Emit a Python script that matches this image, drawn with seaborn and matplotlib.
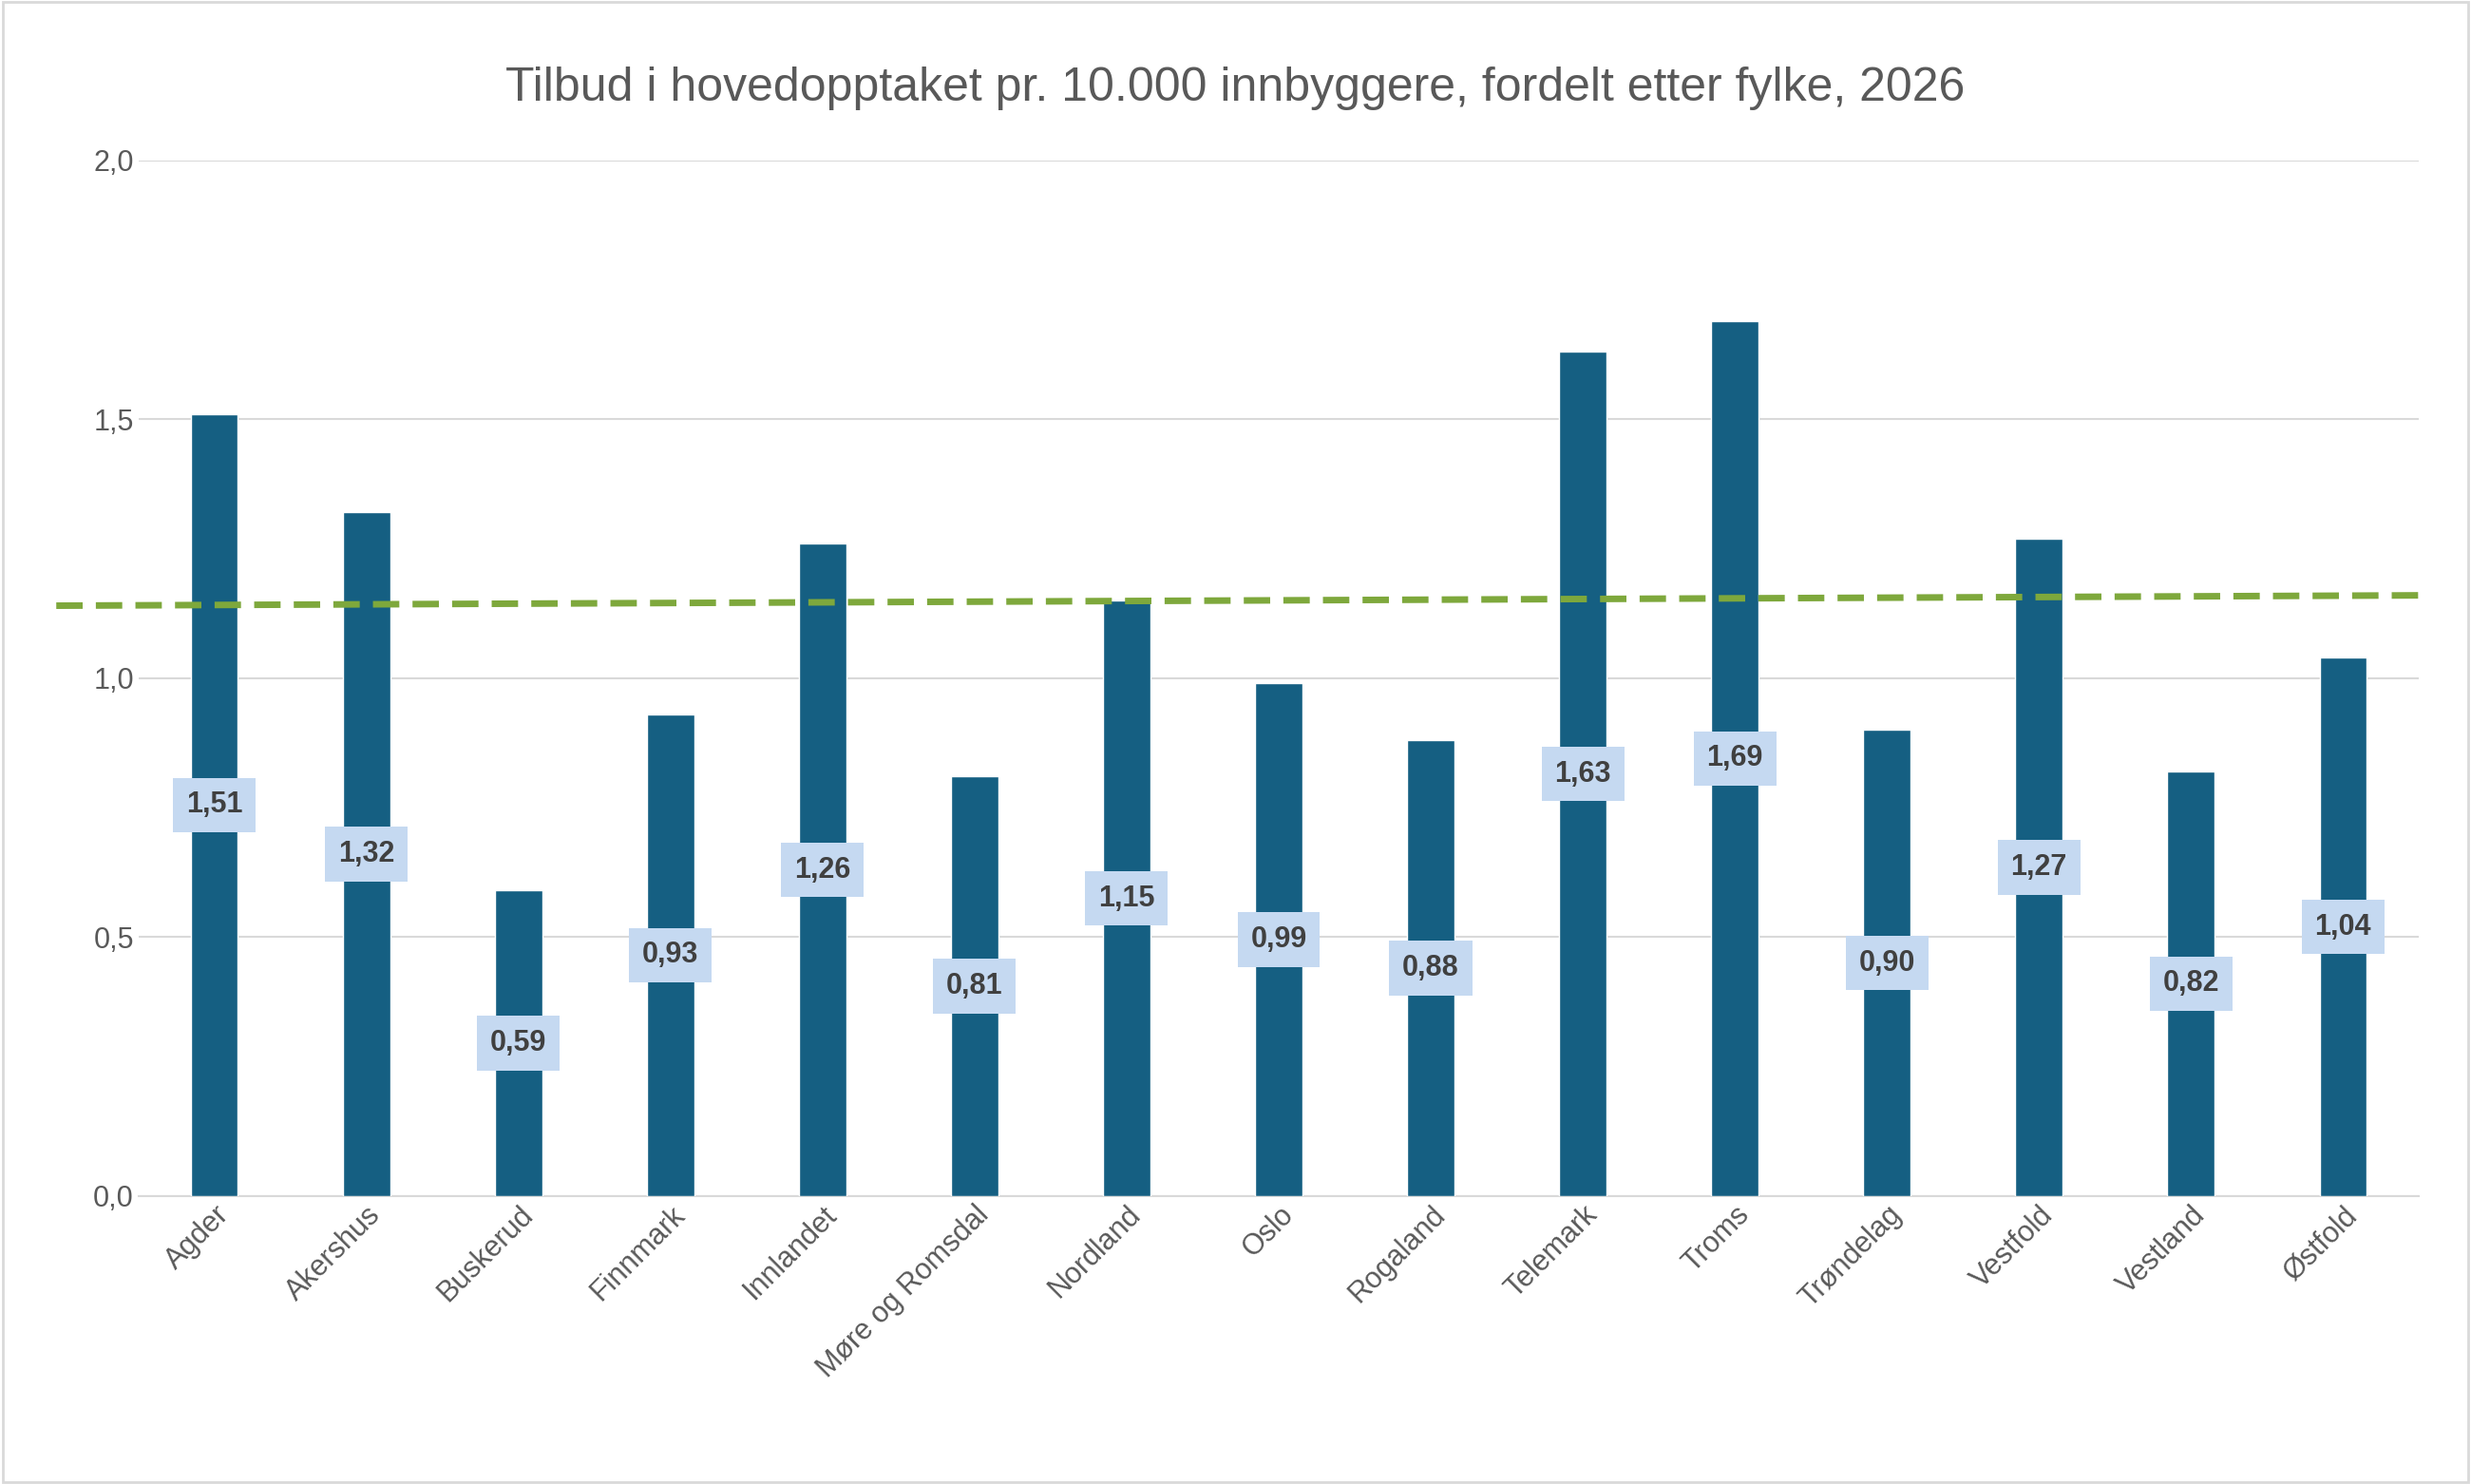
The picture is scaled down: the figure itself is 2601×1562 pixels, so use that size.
import matplotlib
matplotlib.use("Agg")
import matplotlib.pyplot as plt
import seaborn as sns
import pandas as pd

fylker = ["Agder","Akershus","Buskerud","Finnmark","Innlandet","Møre og Romsdal","Nordland",
          "Oslo","Rogaland","Telemark","Troms","Trøndelag","Vestfold","Vestland","Østfold"]
verdier = [1.51,1.32,0.59,0.93,1.26,0.81,1.15,0.99,0.88,1.63,1.69,0.90,1.27,0.82,1.04]
trend_x = [-1.04, 14.55]
trend_y = [1.14, 1.16]

sns.set_theme(style="white")
plt.rcParams['font.family'] = ['Liberation Sans', 'DejaVu Sans']
df = pd.DataFrame({"fylke": fylker, "verdi": verdier})

fig = plt.figure(figsize=(26.01, 15.62), dpi=100)
ax = fig.add_axes([0.056, 0.194, 0.923, 0.698])
sns.barplot(data=df, x="fylke", y="verdi", color="#155f82", width=0.31, saturation=1, ax=ax, zorder=3)
ax.set_ylim(0, 2.0)
ax.set_xlim(-0.5, 14.5)
ax.set_yticks([0, 0.5, 1.0, 1.5, 2.0])
ax.set_yticklabels(["0,0","0,5","1,0","1,5","2,0"])
ax.yaxis.grid(True, color="#d9d9d9", linewidth=1.5, zorder=0)
for s in ["top","right","left"]:
    ax.spines[s].set_visible(False)
ax.spines["bottom"].set_color("#d9d9d9"); ax.spines["bottom"].set_linewidth(1.5)
ax.tick_params(axis="both", colors="#595959", labelsize=22, length=0)
plt.setp(ax.get_xticklabels(), rotation=45, ha="right", rotation_mode="anchor")
ax.set_xlabel(""); ax.set_ylabel("")
for i, v in enumerate(verdier):
    ax.text(i, v/2, f"{v:.2f}".replace(".", ","), ha="center", va="center", fontsize=22,
            fontweight="bold", color="#404040", zorder=5,
            bbox=dict(boxstyle="square,pad=0.45", fc="#c5d9f1", ec="none"))
ax.plot(trend_x, trend_y, color="#7ea83c", linewidth=5, dashes=(4, 2), clip_on=False, zorder=4)
fig.suptitle("Tilbud i hovedopptaket pr. 10.000 innbyggere, fordelt etter fylke, 2026",
             y=0.955, fontsize=36, color="#595959")
fig.patches.append(plt.Rectangle((0.001, 0.001), 0.998, 0.998, transform=fig.transFigure,
                                 fill=False, ec="#d9d9d9", lw=2))
fig.savefig("out.png", dpi=100)
